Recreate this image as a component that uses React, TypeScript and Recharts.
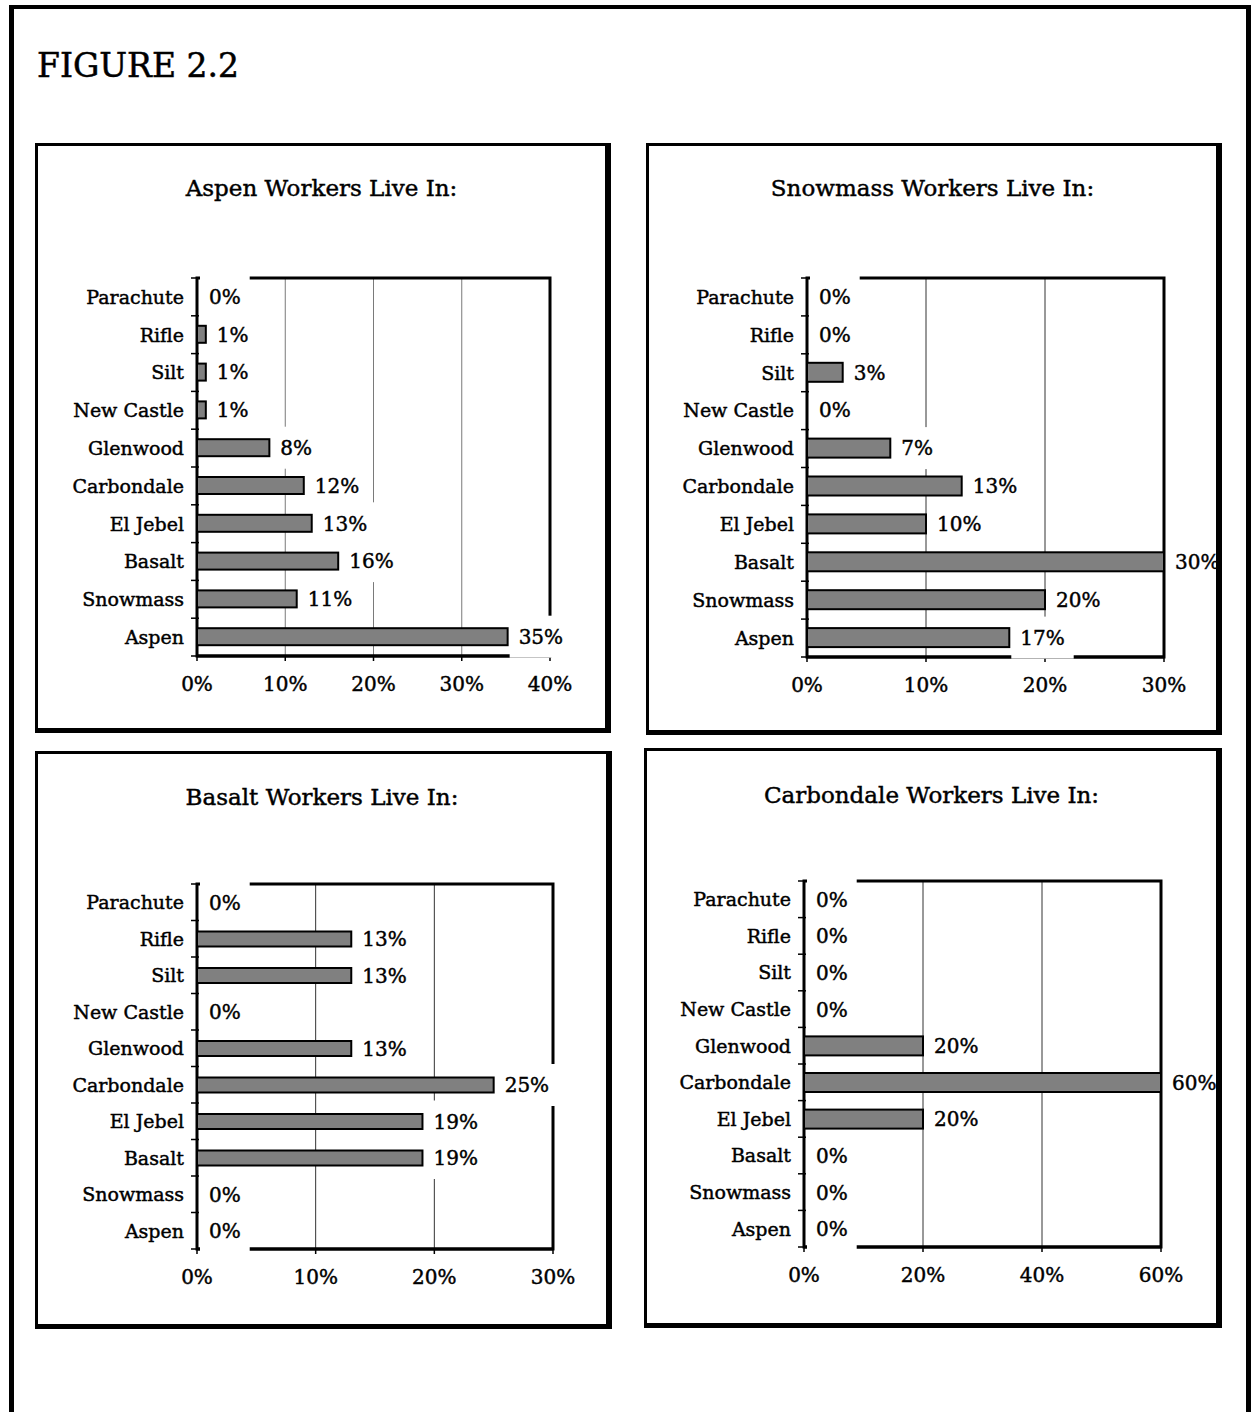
import { BarChart, Bar, XAxis, YAxis, CartesianGrid, LabelList, ReferenceArea } from 'recharts';

const FONT = '"DejaVu Serif", serif';

// where the workers of each town live (percent of workers)
const towns = ['Parachute', 'Rifle', 'Silt', 'New Castle', 'Glenwood', 'Carbondale', 'El Jebel', 'Basalt', 'Snowmass', 'Aspen'];
const aspenWorkers = [0, 1, 1, 1, 8.2, 12.1, 13, 16, 11.3, 35.2];
const snowmassWorkers = [0, 0, 3, 0, 7, 13, 10, 30, 20, 17];
const basaltWorkers = [0, 13, 13, 0, 13, 25, 19, 19, 0, 0];
const carbondaleWorkers = [0, 0, 0, 0, 20, 60, 20, 0, 0, 0];

const ticks40 = [0, 10, 20, 30, 40];
const ticks30 = [0, 10, 20, 30];
const ticks60 = [0, 20, 40, 60];

const panels = [
  { title: 'Aspen Workers Live In:', values: aspenWorkers, ticks: ticks40, box: { x: 35, y: 143, w: 576, h: 590 }, plot: { left: 159, right: 55, top: 132, bottom: 72 }, barSize: 17, titleY: 42, grid: '#7a7a7a' },
  { title: 'Snowmass Workers Live In:', values: snowmassWorkers, ticks: ticks30, box: { x: 646, y: 143, w: 576, h: 592 }, plot: { left: 158, right: 52, top: 132, bottom: 73 }, barSize: 19, titleY: 42, grid: '#333' },
  { title: 'Basalt Workers Live In:', values: basaltWorkers, ticks: ticks30, box: { x: 35, y: 751, w: 577, h: 578 }, plot: { left: 159, right: 53, top: 130, bottom: 75 }, barSize: 15, titleY: 43, grid: '#333' },
  { title: 'Carbondale Workers Live In:', values: carbondaleWorkers, ticks: ticks60, box: { x: 644, y: 748, w: 578, h: 580 }, plot: { left: 157, right: 55, top: 130, bottom: 76 }, barSize: 19, titleY: 44, grid: '#333' },
];

const panelBorder = { borderStyle: 'solid', borderColor: '#000', borderWidth: '3px 6px 5px 3px' };

// scanned print looks heavier than DejaVu regular, so the glyphs get a thin outline
const textInk = { fontFamily: FONT, fontSize: 19, fill: '#000', stroke: '#000', strokeWidth: 0.45 };
const numberInk = { ...textInk, fontSize: 20 };

const TownTick = ({ x, y, payload, index, bandH, margin }: any) => {
  const axisX = x + margin;
  return (
    <g>
      <line x1={axisX - 6} x2={axisX + 2} y1={y - bandH / 2} y2={y - bandH / 2} stroke="#000" strokeWidth={1.5} />
      {index === towns.length - 1 && (
        <line x1={axisX - 6} x2={axisX + 2} y1={y + bandH / 2} y2={y + bandH / 2} stroke="#000" strokeWidth={1.5} />
      )}
      <text x={x} y={y} dy="0.36em" textAnchor="end" {...textInk}>
        {payload.value}
      </text>
    </g>
  );
};

// data label sitting on a white box, like the original
const ValueLabel = (props: any) => {
  const vb = props.viewBox && props.viewBox.width != null ? props.viewBox : props;
  const { x, y, width, height } = vb;
  const text = `${Math.round(Number(props.value))}%`;
  const tx = x + width + 11;
  const cy = y + height / 2;
  const w = (text.length - 1) * 12.7 + 19;
  return (
    <g>
      <rect x={tx - 9} y={cy - 21} width={w + 18} height={42} fill="#fff" />
      <text x={tx} y={cy} dy="0.36em" {...numberInk}>{text}</text>
    </g>
  );
};

const BarShape = (p: any) =>
  p.payload && p.payload.share > 0 ? (
    <rect x={p.x} y={p.y} width={p.width} height={p.height} fill="#808080" stroke="#000" strokeWidth={2} />
  ) : (
    <g />
  );

function Panel({ title, values, ticks, box, plot, barSize, titleY, grid }: any) {
  const data = towns.map((town, i) => ({ town, share: values[i] }));
  const max = ticks[ticks.length - 1];
  const chartH = box.h - 8;
  const bandH = (chartH - plot.top - plot.bottom) / towns.length;
  return (
    <div style={{
      position: 'absolute', left: box.x, top: box.y, width: box.w, height: box.h,
      boxSizing: 'border-box', ...panelBorder,
    }}>
      <div style={{
        position: 'absolute', left: 0, right: 0, top: titleY - 12, textAlign: 'center',
        fontSize: 23, lineHeight: '24px', WebkitTextStroke: '0.45px #000',
      }}>
        {title}
      </div>
      <div style={{ position: 'absolute', left: 0, top: 0 }}>
        <BarChart
          width={box.w - 9}
          height={chartH}
          data={data}
          layout="vertical"
          barSize={barSize}
          margin={{ top: plot.top, right: plot.right, bottom: plot.bottom - 40, left: 0 }}
        >
          <CartesianGrid horizontal={false} stroke={grid} strokeWidth={1} yAxisId="cat" />
          <XAxis
            type="number"
            domain={[0, max]}
            ticks={ticks}
            interval={0}
            allowDataOverflow
            tickFormatter={(v) => `${v}%`}
            height={40}
            axisLine={{ stroke: '#000', strokeWidth: 3 }}
            tickLine={{ stroke: '#000', strokeWidth: 1.5 }}
            tickSize={5}
            tickMargin={16}
            tick={numberInk}
          />
          <YAxis
            yAxisId="cat"
            type="category"
            dataKey="town"
            width={plot.left}
            interval={0}
            axisLine={false}
            tickLine={false}
            tickSize={0}
            tickMargin={13}
            tick={(p: any) => <TownTick {...p} bandH={bandH} margin={13} />}
          />
          <ReferenceArea yAxisId="cat" x1={0} x2={max} fill="none" stroke="#000" strokeWidth={3} ifOverflow="visible" />
          <Bar
            yAxisId="cat"
            dataKey="share"
            fill="#808080"
            stroke="#000"
            strokeWidth={2}
            minPointSize={1}
            shape={BarShape}
            isAnimationActive={false}
          >
            <LabelList dataKey="share" content={ValueLabel} />
          </Bar>
        </BarChart>
      </div>
      {/* border redrawn on top so overflowing labels tuck under it */}
      <div style={{ position: 'absolute', left: -3, top: -3, right: -6, bottom: -5, ...panelBorder, pointerEvents: 'none' }} />
    </div>
  );
}

export default function App() {
  return (
    <div style={{ position: 'absolute', left: 0, top: 0, width: 1251, height: 1412, background: '#fff', overflow: 'hidden', fontFamily: FONT, color: '#000' }}>
      <style>{'.recharts-surface { overflow: visible; }'}</style>
      <div style={{
        position: 'absolute', left: 9, top: 5, width: 1242, height: 1430, boxSizing: 'border-box',
        borderLeft: '5px solid #000', borderTop: '4px solid #000', borderRight: '5px solid #000',
      }} />
      <div style={{ position: 'absolute', left: 37, top: 46, fontSize: 33, lineHeight: '40px', WebkitTextStroke: '0.5px #000' }}>
        FIGURE 2.2
      </div>
      {panels.map((p) => <Panel key={p.title} {...p} />)}
    </div>
  );
}
